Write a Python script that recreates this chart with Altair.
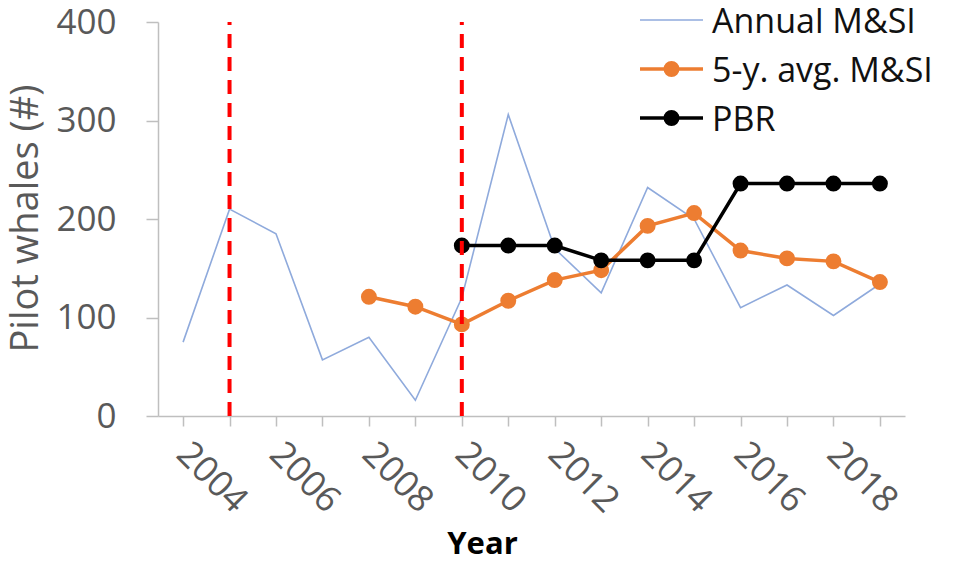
import altair as alt
import pandas as pd

# ---- data ----
years = list(range(2004, 2020))
annual = [75, 210, 185, 57, 80, 16, 120, 306, 170, 125, 232, 200, 110, 133, 102, 134]
avg_years = list(range(2008, 2020))
avg5 = [121, 111, 93, 117, 138, 148, 193, 206, 168, 160, 157, 136]
pbr_years = list(range(2010, 2020))
pbr = [173, 173, 173, 158, 158, 158, 236, 236, 236, 236]
event_years = [2005, 2010]
series_names = ["Annual M&SI", "5-y. avg. M&SI", "PBR"]
series_colors = ["#8FAADC", "#ED7D31", "#000000"]
series_widths = [1.6, 3.5, 3.5]
series_markers = [False, True, True]
tick_years = list(range(2004, 2020))
y_ticks = [0, 100, 200, 300, 400]

rows = []
for yr, v in zip(years, annual):
    rows.append({"series": series_names[0], "year": yr, "value": v})
for yr, v in zip(avg_years, avg5):
    rows.append({"series": series_names[1], "year": yr, "value": v})
for yr, v in zip(pbr_years, pbr):
    rows.append({"series": series_names[2], "year": yr, "value": v})
df = pd.DataFrame(rows)
ev = pd.DataFrame({"year": event_years})

FONT = "Open Sans"
AXIS_GRAY = "#BFBFBF"
LABEL_GRAY = "#595959"

xscale = alt.Scale(domain=[2003.46, 2019.54], nice=False, zero=False)
yscale = alt.Scale(domain=[0, 400], nice=False)
cscale = alt.Scale(domain=series_names, range=series_colors)

x_enc = alt.X(
    "year:Q",
    scale=xscale,
    axis=alt.Axis(
        values=tick_years,
        format="d",
        labelExpr="datum.value % 2 == 0 ? datum.label : ''",
        labelAngle=45,
        labelAlign="left",
        labelBaseline="top",
        labelFont=FONT,
        labelFontSize=36,
        labelColor=LABEL_GRAY,
        labelPadding=10,
        labelOffset=11,
        labelOverlap=False,
        labelFlush=False,
        labelBound=False,
        tickSize=10,
        tickColor=AXIS_GRAY,
        tickWidth=1.5,
        domainColor=AXIS_GRAY,
        domainWidth=1.5,
        grid=False,
        title="Year",
        titleFont=FONT,
        titleFontSize=31,
        titleFontWeight="bold",
        titleColor="#000000",
        titleX=324,
        titleY=137,
        titleAlign="center",
        titleBaseline="alphabetic",
    ),
)
y_enc = alt.Y(
    "value:Q",
    scale=yscale,
    axis=alt.Axis(
        values=y_ticks,
        labelFont=FONT,
        labelFontSize=35,
        labelColor=LABEL_GRAY,
        labelPadding=30,
        tickSize=12,
        tickColor=AXIS_GRAY,
        tickWidth=1.5,
        domainColor=AXIS_GRAY,
        domainWidth=1.5,
        grid=False,
        title="Pilot whales (#)",
        titleFont=FONT,
        titleFontSize=38,
        titleFontWeight="normal",
        titleColor=LABEL_GRAY,
        titleAngle=-90,
        titleX=-113,
        titleY=196,
        titleAlign="center",
        titleBaseline="bottom",
    ),
)

base = alt.Chart(df)
color_enc = alt.Color("series:N", scale=cscale, legend=None)


def series_layers(i):
    sub = base.transform_filter(alt.datum.series == series_names[i])
    out = [sub.mark_line(strokeWidth=series_widths[i]).encode(x=x_enc, y=y_enc, color=color_enc)]
    if series_markers[i]:
        out.append(sub.mark_circle(size=254, opacity=1).encode(x=x_enc, y=y_enc, color=color_enc))
    return out


data_layers = []
for i in range(len(series_names)):
    data_layers += series_layers(i)

rules = alt.Chart(ev).mark_rule(
    color="#FF0000", strokeWidth=4, strokeDash=[14, 9]
).encode(x=x_enc, y=alt.datum(0), y2=alt.datum(400))

# ---- legend (top right, inside the plot) ----
LEG_X0, LEG_X1, LEG_LABEL_X = 482, 545, 554
LEG_Y0, LEG_DY = -2, 49
legend_layers = []
for i, name in enumerate(series_names):
    row = alt.Chart(pd.DataFrame({"label": [name]}))
    yy = LEG_Y0 + i * LEG_DY
    legend_layers.append(
        row.mark_rule(color=series_colors[i], strokeWidth=series_widths[i]).encode(
            x=alt.value(LEG_X0), x2=alt.value(LEG_X1), y=alt.value(yy)
        )
    )
    if series_markers[i]:
        legend_layers.append(
            row.mark_circle(size=254, opacity=1, color=series_colors[i]).encode(
                x=alt.value((LEG_X0 + LEG_X1) / 2), y=alt.value(yy)
            )
        )
    legend_layers.append(
        row.mark_text(
            align="left", baseline="middle", font=FONT, fontSize=34, color="#111111"
        ).encode(x=alt.value(LEG_LABEL_X), y=alt.value(yy + 3), text="label:N")
    )

chart = (
    alt.layer(*data_layers, rules, *legend_layers)
    .properties(
        width=747,
        height=394,
        autosize=alt.AutoSizeParams(type="none"),
        padding={"left": 150, "top": 14, "right": 30, "bottom": 138},
        background="white",
    )
    .configure_view(stroke=None)
)

chart.save("out.html", embed_options={"renderer": "svg", "actions": False})
